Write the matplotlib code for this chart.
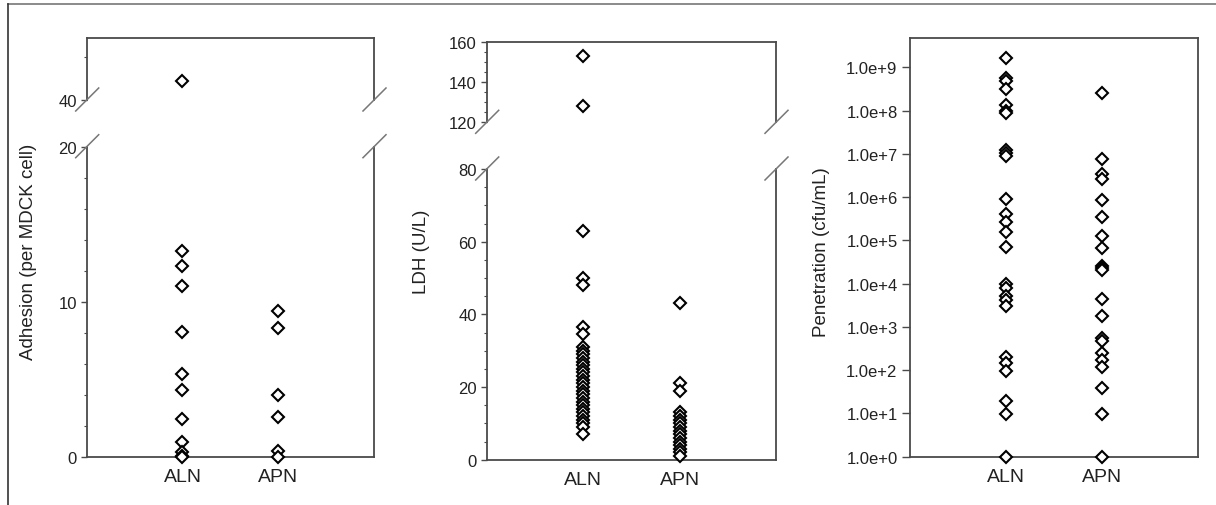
import numpy as np
import matplotlib
matplotlib.use("Agg")
import matplotlib.pyplot as plt
from matplotlib.lines import Line2D
from matplotlib.ticker import FixedLocator, FuncFormatter, NullLocator

plt.rcParams['font.family'] = ['Liberation Sans', 'DejaVu Sans']

# Data
groups = ["ALN", "APN"]

adhesion_aln = [42.2, 13.3, 12.3, 11.0, 8.1, 5.35, 4.35, 2.45, 0.97, 0.35, 0.1, 0.0]
adhesion_apn = [9.4, 8.3, 4.0, 2.6, 0.43, 0.05]

ldh_aln = [153, 128, 63, 50, 48, 36.5, 34.5, 31, 30, 29, 28, 27, 26, 25, 24, 23, 22, 21,
           20, 19, 18, 17, 16, 15, 14, 13, 12, 11, 10, 9, 7]
ldh_apn = [43, 21, 19, 13, 12, 11, 10, 9, 8, 7, 6, 5, 4, 3, 2, 1]

pen_aln = [1.6e9, 5.6e8, 4.8e8, 3.2e8, 1.35e8, 1.0e8, 8.7e7, 1.2e7, 1.05e7, 9.1e6,
           9.1e5, 4.1e5, 2.6e5, 1.6e5, 6.9e4, 9.8e3, 8.1e3, 5.2e3, 4.2e3, 3.0e3,
           2.0e2, 1.5e2, 9.8e1, 1.95e1, 9.8, 1.0]
pen_apn = [2.6e8, 7.6e6, 3.5e6, 2.6e6, 8.7e5, 3.5e5, 1.26e5, 6.5e4, 2.5e4, 2.3e4, 2.1e4,
           4.4e3, 1.8e3, 5.4e2, 4.8e2, 2.5e2, 1.7e2, 1.2e2, 38, 9.8, 1.0]

W, H = 1216, 506
fig = plt.figure(figsize=(W / 100, H / 100), dpi=100)

spine_col = "#4a4a4a"
txt_col = "#222222"
mk = dict(marker="D", ms=6.4, mfc="white", mec="black", mew=1.5, ls="none", zorder=5, clip_on=False)


def box(l, r, t, b):
    return [l / W, 1 - b / H, (r - l) / W, (b - t) / H]


def style(ax, bottom_part):
    ax.set_xlim(0, 3)
    for s in ax.spines.values():
        s.set_color(spine_col)
        s.set_linewidth(1.3)
    ax.tick_params(axis="y", which="major", length=4, width=1, color=spine_col,
                   labelsize=12, labelcolor=txt_col, pad=3)
    ax.tick_params(axis="y", which="minor", length=2.5, width=0.8, color=spine_col)
    if bottom_part:
        ax.set_xticks([1, 2])
        ax.set_xticklabels(groups)
        ax.tick_params(axis="x", length=0, pad=8, labelsize=14, labelcolor=txt_col)
    else:
        ax.set_xticks([])


def lim_ok(ax, v):
    lo, hi = ax.get_ylim()
    return lo - 1e-9 <= v <= hi


def broken(l, r, top, split_hi, split_lo, bottom, hi_lim, lo_lim, hi_ticks, hi_minor,
           lo_ticks, lo_minor, aln, apn, ylabel, label_x):
    ax_hi = fig.add_axes(box(l, r, top, split_hi))
    ax_lo = fig.add_axes(box(l, r, split_lo, bottom))
    ax_hi.spines["bottom"].set_visible(False)
    ax_lo.spines["top"].set_visible(False)
    for ax, lim, maj, mnr, bp in [(ax_hi, hi_lim, hi_ticks, hi_minor, False),
                                  (ax_lo, lo_lim, lo_ticks, lo_minor, True)]:
        ax.set_ylim(*lim)
        ax.yaxis.set_major_locator(FixedLocator(maj))
        ax.yaxis.set_minor_locator(FixedLocator(mnr))
        style(ax, bp)
    for ax in (ax_hi, ax_lo):
        a = [v for v in aln if lim_ok(ax, v)]
        p = [v for v in apn if lim_ok(ax, v)]
        ax.plot([1] * len(a), a, **mk)
        ax.plot([2] * len(p), p, **mk)
    # break marks
    for x in (l, r):
        for y in (split_hi, split_lo):
            fig.add_artist(Line2D([(x - 11) / W, (x + 12) / W], [1 - (y + 11) / H, 1 - (y - 12) / H],
                                  color="#777777", lw=1.1))
    fig.text(label_x / W, 1 - 252 / H, ylabel, rotation=90, ha="center", va="center",
             fontsize=13.5, color=txt_col)


# Panel 1: adhesion
broken(86.7, 374, 39.3, 101, 147.7, 458.3, (40, 47.2), (0, 20), [40], [45],
       [0, 10, 20], np.arange(0, 21, 2), adhesion_aln, adhesion_apn,
       "Adhesion (per MDCK cell)", 29)

# Panel 2: LDH
broken(486.7, 776, 43.3, 123.3, 170, 460.7, (120, 160), (0, 80), [120, 140, 160],
       np.arange(120, 161, 5), [0, 20, 40, 60, 80], np.arange(0, 81, 5),
       ldh_aln, ldh_apn, "LDH (U/L)", 422)

# Panel 3: penetration (log)
ax3 = fig.add_axes(box(910, 1197.7, 39.3, 457.7))
ax3.set_yscale("log")
ax3.set_ylim(1, 10 ** 9.67)
ax3.yaxis.set_major_locator(FixedLocator([10.0 ** k for k in range(10)]))
ax3.yaxis.set_minor_locator(NullLocator())
ax3.yaxis.set_major_formatter(FuncFormatter(lambda v, p: "1.0e+%d" % round(np.log10(v))))
style(ax3, True)
ax3.tick_params(axis="y", which="major", length=6)
ax3.plot([1] * len(pen_aln), pen_aln, **mk)
ax3.plot([2] * len(pen_apn), pen_apn, **mk)
fig.text(822 / W, 1 - 252 / H, "Penetration (cfu/mL)", rotation=90, ha="center", va="center",
         fontsize=13.5, color=txt_col)

# outer frame (top and left only)
fig.add_artist(Line2D([8 / W, 1], [1 - 5 / H, 1 - 5 / H], color="#777777", lw=1.2))
fig.add_artist(Line2D([8 / W, 8 / W], [0, 1 - 5 / H], color="#333333", lw=1.2))

fig.savefig("out.png", dpi=100)
